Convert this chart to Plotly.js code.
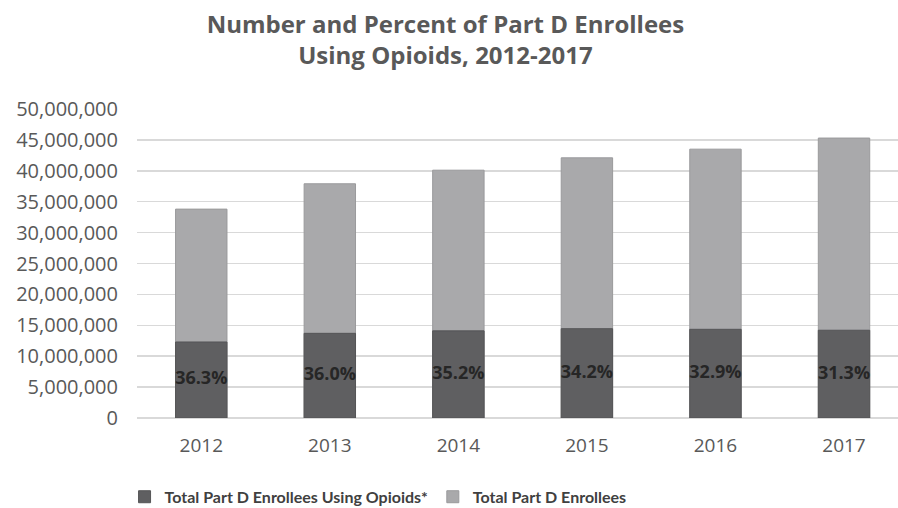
<!DOCTYPE html>
<html>
<head>
<meta charset="utf-8">
<script src="https://cdn.plot.ly/plotly-3.0.1.min.js"></script>
<style>html,body{margin:0;padding:0;background:#fff;}#chart{width:898px;height:508px;}</style>
</head>
<body>
<div id="chart"></div>
<script>
const years = ['2012', '2013', '2014', '2015', '2016', '2017'];
const totalEnrollees = [33800000, 37900000, 40100000, 42100000, 43500000, 45300000];
const opioidEnrollees = [12300000, 13700000, 14100000, 14450000, 14350000, 14200000];
const percentLabels = ['36.3%', '36.0%', '35.2%', '34.2%', '32.9%', '31.3%'];
const yTicks = [0, 5000000, 10000000, 15000000, 20000000, 25000000, 30000000, 35000000, 40000000, 45000000, 50000000];
const yTickText = ['0', '5,000,000', '10,000,000', '15,000,000', '20,000,000', '25,000,000', '30,000,000', '35,000,000', '40,000,000', '45,000,000', '50,000,000'];

const FONT = '"Open Sans", "Noto Sans", sans-serif';
const NARROW = 'Lato, "Open Sans", sans-serif';
const traces = [
  {
    type: 'bar', x: years, y: totalEnrollees, name: 'Total Part D Enrollees',
    marker: {color: '#a9a9ab', line: {color: '#9a9a9c', width: 1}}, width: 0.4, legendrank: 2,
    hoverinfo: 'x+y'
  },
  {
    type: 'bar', x: years, y: opioidEnrollees, name: 'Total Part D Enrollees Using Opioids*',
    marker: {color: '#5f5f61', line: {color: '#555557', width: 1}}, width: 0.4, legendrank: 1,
    hoverinfo: 'x+y'
  },
  {
    type: 'scatter', mode: 'text', x: years, y: opioidEnrollees.map(v => v / 2),
    text: percentLabels, textposition: 'middle center', showlegend: false,
    textfont: {family: FONT, size: 18, color: '#262626', weight: 'bold'}, hoverinfo: 'skip'
  }
];

const layout = {
  width: 898, height: 508,
  margin: {l: 137, r: 0, t: 109, b: 90},
  paper_bgcolor: '#ffffff', plot_bgcolor: '#ffffff',
  barmode: 'overlay',
  font: {family: FONT, color: '#595959', size: 19},
  title: {
    text: 'Number and Percent of Part D Enrollees<br>Using Opioids, 2012-2017',
    font: {family: FONT, size: 24, color: '#595959', weight: 'bold'},
    x: 0.496, xanchor: 'center', y: 0.935, yanchor: 'top'
  },
  xaxis: {
    type: 'category', range: [-0.5, 5.42], showgrid: false, zeroline: false, showline: false,
    ticks: '', tickfont: {family: FONT, size: 19, color: '#595959'}, ticklabelstandoff: 14
  },
  yaxis: {
    range: [0, 50000000], tickvals: yTicks, ticktext: yTickText,
    showgrid: true, gridcolor: '#d9d9d9', gridwidth: 1.5, zeroline: true, zerolinecolor: '#d9d9d9', zerolinewidth: 1.5,
    showline: false, ticks: '', tickfont: {family: FONT, size: 20, color: '#595959'}, ticklabelstandoff: 18
  },
  legend: {
    orientation: 'h', x: 0.421, xref: 'container', xanchor: 'center', y: 0.022, yref: 'container', yanchor: 'middle',
    font: {family: NARROW, size: 16, color: '#404040', weight: 'bold'}, itemwidth: 30, bgcolor: 'rgba(0,0,0,0)'
  },
  showlegend: true
};

Plotly.newPlot('chart', traces, layout, {displayModeBar: false, staticPlot: true});
</script>
</body>
</html>
